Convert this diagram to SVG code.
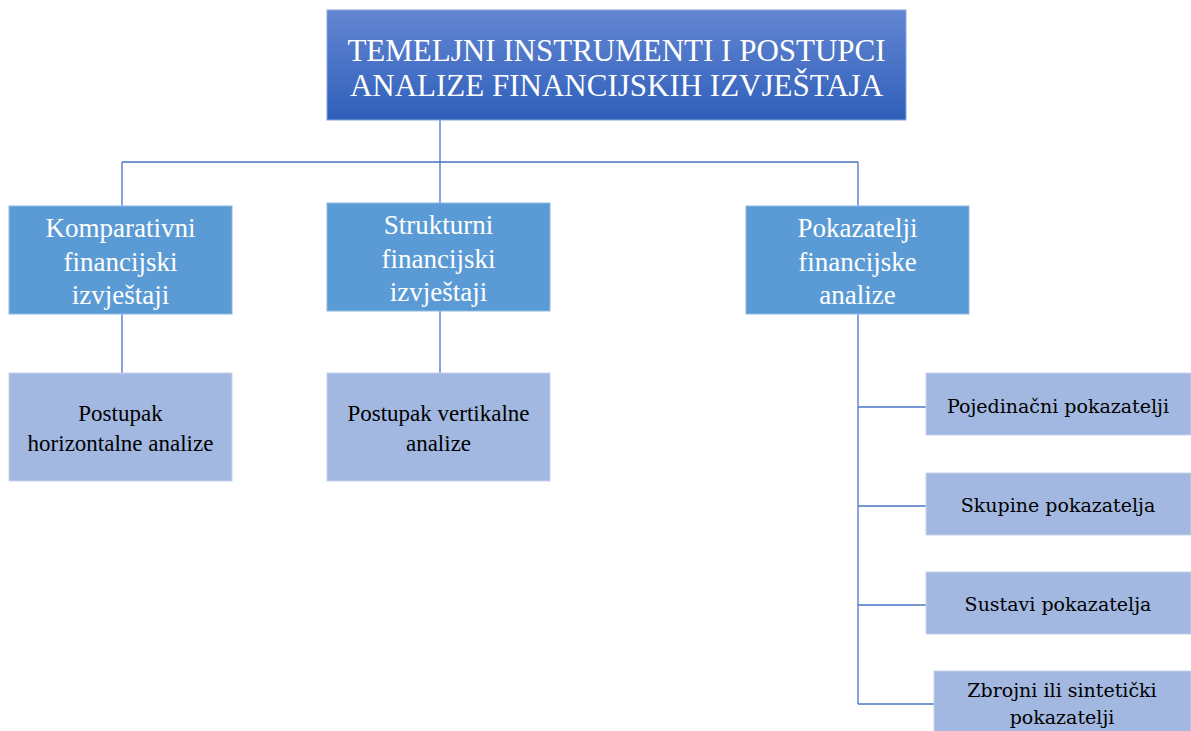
<svg xmlns="http://www.w3.org/2000/svg" width="1191" height="731" viewBox="0 0 1191 731">
<defs>
<linearGradient id="g" x1="0" y1="0" x2="0" y2="1">
<stop offset="0" stop-color="#6386d2"/>
<stop offset="1" stop-color="#2f5fba"/>
</linearGradient>
</defs>
<style>
.mid{fill:#5b9bd5;stroke:#8fb8e3;stroke-width:1}
.low{fill:#a2b8e0;stroke:#c5d3ec;stroke-width:1}
.tw{font-family:"Liberation Serif",serif;fill:#fff;text-anchor:middle}
.tb{font-family:"Liberation Serif",serif;fill:#000;text-anchor:middle;font-size:23px}
.tc{font-family:"DejaVu Serif","Liberation Serif",serif;fill:#000;text-anchor:middle;font-size:19px}
.ln{stroke:#4a76c6;stroke-width:1.3;fill:none}
</style>
<rect width="1191" height="731" fill="#fff"/>
<g id="connectors">
<path class="ln" d="M440 120V162M122 162H858M122 162V206M440 162V203M858 162V206"/>
<path class="ln" d="M122 314V373M440 311V373"/>
<path class="ln" d="M858 314V704M858 407H926M858 506H926M858 605H926M858 704H934"/>
</g>
<g id="root">
<rect x="327" y="10" width="579" height="110" fill="url(#g)" stroke="#8aa6dd" stroke-width="1"/>
<text class="tw" font-size="31" x="616.5" y="61">TEMELJNI INSTRUMENTI I POSTUPCI</text>
<text class="tw" font-size="31" x="616.5" y="96">ANALIZE FINANCIJSKIH IZVJEŠTAJA</text>
</g>
<g id="komparativni">
<rect class="mid" x="9" y="206" width="223" height="108"/>
<text class="tw" font-size="27" x="120.5" y="237">Komparativni</text>
<text class="tw" font-size="27" x="120.5" y="271">financijski</text>
<text class="tw" font-size="27" x="120.5" y="304">izvještaji</text>
</g>
<g id="strukturni">
<rect class="mid" x="327" y="203" width="223" height="108"/>
<text class="tw" font-size="27" x="438.5" y="234">Strukturni</text>
<text class="tw" font-size="27" x="438.5" y="268">financijski</text>
<text class="tw" font-size="27" x="438.5" y="301">izvještaji</text>
</g>
<g id="pokazatelji">
<rect class="mid" x="746" y="206" width="223" height="108"/>
<text class="tw" font-size="27" x="857.5" y="237">Pokazatelji</text>
<text class="tw" font-size="27" x="857.5" y="271">financijske</text>
<text class="tw" font-size="27" x="857.5" y="304">analize</text>
</g>
<g id="horizontalna">
<rect class="low" x="9" y="373" width="223" height="108"/>
<text class="tb" x="120.5" y="421">Postupak</text>
<text class="tb" x="120.5" y="451">horizontalne analize</text>
</g>
<g id="vertikalna">
<rect class="low" x="327" y="373" width="223" height="108"/>
<text class="tb" x="438.5" y="421">Postupak vertikalne</text>
<text class="tb" x="438.5" y="451">analize</text>
</g>
<g id="pojedinacni">
<rect class="low" x="926" y="373" width="265" height="62"/>
<text class="tc" x="1058" y="413">Pojedinačni pokazatelji</text>
</g>
<g id="skupine">
<rect class="low" x="926" y="473" width="265" height="62"/>
<text class="tc" x="1058" y="512">Skupine pokazatelja</text>
</g>
<g id="sustavi">
<rect class="low" x="926" y="572" width="265" height="62"/>
<text class="tc" x="1058" y="611">Sustavi pokazatelja</text>
</g>
<g id="zbrojni">
<rect class="low" x="934" y="671" width="257" height="62"/>
<text class="tc" x="1062" y="697">Zbrojni ili sintetički</text>
<text class="tc" x="1062" y="724">pokazatelji</text>
</g>
</svg>
